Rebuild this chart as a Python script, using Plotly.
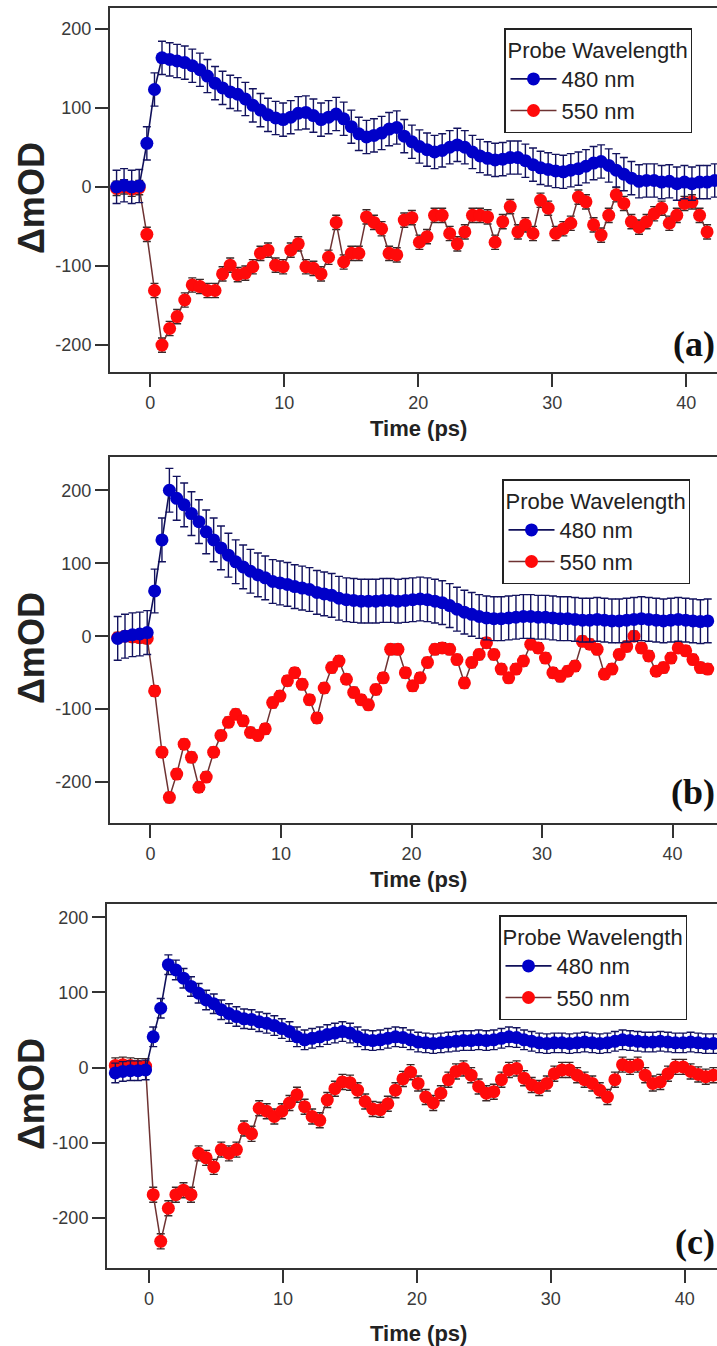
import plotly.graph_objects as go

# ---------------- data ----------------
TIME_PS = [-2.51, -1.95, -1.38, -0.82, -0.25, 0.32, 0.88, 1.45, 2.01, 2.58,
           3.14, 3.71, 4.27, 4.84, 5.40, 5.97, 6.53, 7.10, 7.66, 8.23,
           8.79, 9.36, 9.92, 10.49, 11.05, 11.62, 12.18, 12.75, 13.31, 13.88,
           14.44, 15.01, 15.57, 16.14, 16.70, 17.27, 17.83, 18.40, 18.96, 19.53,
           20.09, 20.66, 21.22, 21.79, 22.35, 22.92, 23.48, 24.05, 24.61, 25.18,
           25.74, 26.31, 26.87, 27.44, 28.00, 28.57, 29.13, 29.70, 30.26, 30.83,
           31.39, 31.96, 32.52, 33.09, 33.65, 34.22, 34.78, 35.35, 35.91, 36.48,
           37.04, 37.61, 38.17, 38.74, 39.30, 39.87, 40.43, 41.00, 41.56, 42.13,
           42.69]

A_480 = [0, 2, 0, 1, 55, 123, 163, 161, 159, 157,
         153, 148, 140, 131, 125, 120, 117, 111, 103, 97,
         91, 87, 85, 88, 93, 94, 90, 85, 88, 92,
         86, 76, 67, 63, 65, 68, 73, 75, 64, 57,
         51, 47, 44, 46, 50, 53, 50, 44, 39, 36,
         34, 35, 37, 37, 33, 28, 24, 22, 20, 19,
         21, 23, 26, 30, 32, 27, 21, 16, 11, 7,
         8, 8, 6, 7, 4, 6, 4, 6, 6, 8,
         None]
A_550 = [-2, 0, -3, -1, -60, -131, -200, -179, -164, -143,
         -124, -126, -131, -131, -110, -99, -111, -109, -101, -84,
         -80, -99, -101, -80, -72, -101, -103, -110, -89, -45,
         -95, -84, -84, -38, -45, -53, -84, -86, -42, -39,
         -70, -63, -36, -36, -59, -72, -57, -36, -36, -38,
         -70, -44, -25, -57, -48, -59, -17, -27, -59, -53,
         -46, -13, -19, -48, -61, -36, -10, -21, -44, -51,
         -44, -34, -27, -46, -36, -21, -19, -36, -57, None,
         None]

B_480 = [-3, 0, 2, 3, 5, 62, 132, 200, 189, 180,
         168, 157, 143, 132, 121, 111, 102, 95, 89, 84,
         80, 75, 73, 71, 68, 66, 64, 60, 58, 56,
         52, 50, 49, 48, 48, 48, 49, 49, 48, 49,
         50, 51, 50, 48, 46, 42, 37, 33, 30, 27,
         25, 24, 24, 25, 26, 27, 27, 26, 26, 25,
         24, 24, 23, 22, 22, 23, 22, 21, 21, 22,
         23, 24, 23, 22, 21, 22, 23, 22, 21, 20,
         21]
B_550 = [-2, 0, -1, -2, -3, -75, -159, -221, -189, -148,
         -166, -207, -193, -159, -136, -118, -107, -116, -132, -136,
         -127, -91, -82, -61, -50, -66, -87, -112, -71, -43,
         -34, -59, -77, -87, -94, -73, -57, -18, -18, -50,
         -68, -57, -36, -18, -16, -18, -32, -64, -36, -25,
         -9, -25, -45, -57, -45, -34, -11, -16, -30, -50,
         -55, -48, -41, -7, -11, -18, -52, -45, -25, -14,
         0, -16, -27, -48, -43, -30, -16, -20, -32, -43,
         -45]

C_480 = [-7, -5, -4, -4, -3, 41, 79, 137, 130, 119,
         108, 99, 90, 85, 77, 72, 68, 65, 64, 61,
         59, 56, 52, 48, 41, 37, 39, 41, 44, 46,
         48, 46, 41, 37, 36, 37, 39, 41, 40, 37,
         34, 33, 32, 33, 34, 35, 36, 36, 37, 36,
         37, 39, 41, 40, 37, 35, 33, 32, 33, 33,
         32, 33, 34, 33, 32, 33, 35, 37, 36, 35,
         34, 34, 35, 34, 33, 33, 34, 33, 32, 32,
         None]
C_550 = [3, 4, 3, 2, 2, -169, -231, -187, -169, -163,
         -169, -114, -120, -132, -109, -114, -109, -81, -88, -54,
         -58, -65, -58, -47, -36, -52, -65, -70, -43, -28,
         -19, -20, -30, -45, -55, -56, -48, -30, -15, -6,
         -21, -39, -47, -34, -16, -5, -1, -10, -25, -34,
         -32, -16, -3, -1, -14, -23, -27, -21, -8, -3,
         -3, -10, -16, -21, -30, -39, -16, 4, 1, 4,
         -10, -21, -19, -8, 1, 1, -5, -9, -12, -10,
         None]

# error-bar half widths (mOD)
ERR_A_480, ERR_A_550 = 21, 9
ERR_B_480, ERR_B_550 = 30, 7
ERR_C_480, ERR_C_550 = 13, 10

SERIES_NAMES = ["480 nm", "550 nm"]
LEGEND_TITLE = "Probe Wavelength"
PANEL_LABELS = ["(a)", "(b)", "(c)"]
X_TICKS = [0, 10, 20, 30, 40]
X_TICK_TEXT = ["0", "10", "20", "30", "40"]
Y_TICKS = [-200, -100, 0, 100, 200]
Y_TICK_TEXT = ["-200", "-100", "0", "100", "200"]

# ---------------- styling ----------------
W, H = 717, 1346
SANS = "Liberation Sans, Arial, sans-serif"
SERIF = "Liberation Serif, Times New Roman, serif"
BLUE = "#0000c8"
BLUE_LINE = "#10105a"
BLUE_ERR = "#12125e"
RED = "#ff0a0a"
RED_LINE = "#6e3232"
RED_ERR = "#3a2a2a"
AX = "#333333"
TXT = "#222222"

panels = [
    dict(left=110, top=8, bottom=372, xr=[-3.0, 42.3], yr=[-234, 226],
         b=A_480, r=A_550, eb=ERR_A_480, er=ERR_A_550,
         leg=(504, 28), lab_y=344, title_y=428),
    dict(left=110, top=457, bottom=823, xr=[-3.1, 43.4], yr=[-256, 245.6],
         b=B_480, r=B_550, eb=ERR_B_480, er=ERR_B_550,
         leg=(502, 479), lab_y=792, title_y=879),
    dict(left=107, top=904, bottom=1268, xr=[-3.13, 42.4], yr=[-266.5, 217.7],
         b=C_480, r=C_550, eb=ERR_C_480, er=ERR_C_550,
         leg=(499, 915), lab_y=1242, title_y=1333),
]

fig = go.Figure()
annotations = []
layout_axes = {}
for i, p in enumerate(panels):
    n = "" if i == 0 else str(i + 1)
    xa, ya = "x" + n, "y" + n
    leg = "legend" + n
    fig.add_trace(go.Scatter(
        x=TIME_PS, y=p["r"], name=SERIES_NAMES[1], mode="lines+markers",
        xaxis=xa, yaxis=ya, legend=leg,
        line=dict(color=RED_LINE, width=1.5),
        marker=dict(color=RED, size=13),
        error_y=dict(type="constant", value=p["er"], color=RED_ERR,
                     thickness=1.4, width=4)))
    fig.add_trace(go.Scatter(
        x=TIME_PS, y=p["b"], name=SERIES_NAMES[0], mode="lines+markers",
        xaxis=xa, yaxis=ya, legend=leg,
        line=dict(color=BLUE_LINE, width=1.6),
        marker=dict(color=BLUE, size=13),
        error_y=dict(type="constant", value=p["eb"], color=BLUE_ERR,
                     thickness=1.4, width=4)))

    xd = [p["left"] / W, 1.0]
    yd = [1 - p["bottom"] / H, 1 - p["top"] / H]
    layout_axes["xaxis" + n] = dict(
        domain=xd, range=p["xr"], anchor=ya, showline=True, linecolor=AX,
        linewidth=2, mirror=True, ticks="outside", ticklen=13, tickwidth=2,
        tickcolor=AX, tickvals=X_TICKS, ticktext=X_TICK_TEXT, showgrid=False,
        zeroline=False, tickfont=dict(family=SANS, size=18, color="#3a3a3a"))
    layout_axes["yaxis" + n] = dict(
        domain=yd, range=p["yr"], anchor=xa, showline=True, linecolor=AX,
        linewidth=2, ticks="outside", ticklen=13, tickwidth=2,
        tickcolor=AX, tickvals=Y_TICKS, ticktext=Y_TICK_TEXT, showgrid=False,
        zeroline=False, tickfont=dict(family=SANS, size=18, color="#3a3a3a"))
    layout_axes[leg] = dict(
        x=p["leg"][0] / W, y=1 - p["leg"][1] / H, xanchor="left", yanchor="top",
        bgcolor="white", bordercolor=TXT, borderwidth=1.5,
        font=dict(family=SANS, size=22, color=TXT),
        title=dict(text=LEGEND_TITLE, font=dict(family=SANS, size=22, color=TXT)),
        itemwidth=46, traceorder="reversed")

    annotations.append(dict(
        x=31 / W, y=1 - ((p["top"] + p["bottom"]) / 2 + 8) / H, xref="paper", yref="paper",
        text="<b>ΔmOD</b>", textangle=-90, showarrow=False, xanchor="center",
        yanchor="middle", font=dict(family=SANS, size=36, color=TXT)))
    annotations.append(dict(
        x=418 / W, y=1 - p["title_y"] / H, xref="paper", yref="paper",
        text="<b>Time (ps)</b>", showarrow=False, xanchor="center",
        yanchor="middle", font=dict(family=SANS, size=22, color=TXT)))
    annotations.append(dict(
        x=1.0, y=1 - p["lab_y"] / H, xref="paper", yref="paper",
        text="<b>" + PANEL_LABELS[i] + "</b>", showarrow=False, xanchor="right",
        yanchor="middle", font=dict(family=SERIF, size=36, color="#111")))

fig.update_layout(
    width=W, height=H, autosize=False,
    margin=dict(l=0, r=0, t=0, b=0),
    paper_bgcolor="white", plot_bgcolor="white",
    showlegend=True, annotations=annotations, **layout_axes)

fig.write_html("out.html")
